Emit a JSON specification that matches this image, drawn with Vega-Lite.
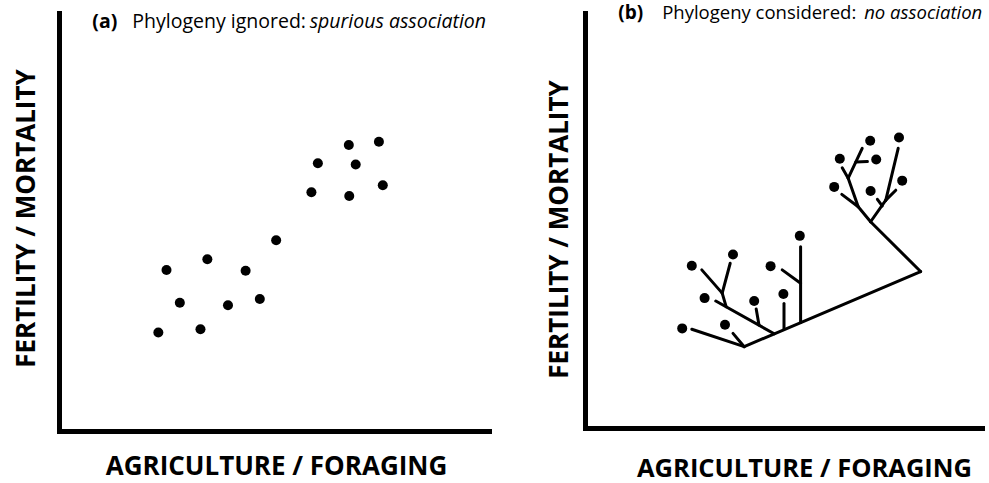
{
  "$schema": "https://vega.github.io/schema/vega-lite/v6.json",
  "background": "white",
  "padding": {"left": 13, "top": 4, "right": 0, "bottom": 0},
  "config": {
    "view": {"stroke": null},
    "font": "Open Sans",
    "axis": {
      "domain": true, "domainColor": "black", "domainWidth": 5, "domainCap": "square",
      "ticks": false, "labels": false, "grid": false,
      "titleFont": "Open Sans", "titleFontWeight": "bold", "titleColor": "black"
    }
  },
  "bounds": "flush",
  "spacing": 96,
  "hconcat": [
    {
      "width": 430, "height": 418,
      "layer": [
        {
          "data": {"values": [
            {"x": 23.1, "y": 23.8}, {"x": 25.0, "y": 38.9}, {"x": 28.1, "y": 31.0}, {"x": 32.9, "y": 24.6},
            {"x": 34.5, "y": 41.5}, {"x": 39.3, "y": 30.4}, {"x": 43.4, "y": 38.7}, {"x": 46.7, "y": 31.9},
            {"x": 50.5, "y": 46.1}, {"x": 58.7, "y": 57.7}, {"x": 60.2, "y": 64.7}, {"x": 67.4, "y": 69.1},
            {"x": 69.0, "y": 64.4}, {"x": 67.5, "y": 56.8}, {"x": 74.4, "y": 69.9}, {"x": 75.3, "y": 59.4}
          ]},
          "mark": {"type": "circle", "color": "black", "opacity": 1, "size": 100},
          "encoding": {
            "x": {"field": "x", "type": "quantitative", "scale": {"domain": [0, 100], "nice": false},
                  "axis": {"title": "AGRICULTURE / FORAGING", "titleFontSize": 26, "titlePadding": 22, "titleX": 217}},
            "y": {"field": "y", "type": "quantitative", "scale": {"domain": [0, 101], "nice": false},
                  "axis": {"title": "FERTILITY / MORTALITY", "titleFontSize": 26, "titlePadding": 20, "titleY": 205}}
          }
        },
        {
          "data": {"values": [{"x": 7.74, "y": 97.3, "t": "(a)"}]},
          "mark": {"type": "text", "align": "left", "baseline": "alphabetic", "fontSize": 19.5, "fontWeight": "bold", "color": "black"},
          "encoding": {"x": {"field": "x", "type": "quantitative"}, "y": {"field": "y", "type": "quantitative"}, "text": {"field": "t"}}
        },
        {
          "data": {"values": [{"x": 17.05, "y": 97.3, "t": "Phylogeny ignored:"}]},
          "mark": {"type": "text", "align": "left", "baseline": "alphabetic", "fontSize": 19.5, "color": "black"},
          "encoding": {"x": {"field": "x", "type": "quantitative"}, "y": {"field": "y", "type": "quantitative"}, "text": {"field": "t"}}
        },
        {
          "data": {"values": [{"x": 58.3, "y": 97.3, "t": "spurious association"}]},
          "mark": {"type": "text", "align": "left", "baseline": "alphabetic", "fontSize": 19.5, "fontStyle": "italic", "color": "black"},
          "encoding": {"x": {"field": "x", "type": "quantitative"}, "y": {"field": "y", "type": "quantitative"}, "text": {"field": "t"}}
        }
      ]
    },
    {
      "width": 400, "height": 415,
      "layer": [
        {
          "data": {"values": [
            {"x1": 26.7, "y1": 23.8, "x2": 39.8, "y2": 19.6},
            {"x1": 37.0, "y1": 22.8, "x2": 39.8, "y2": 19.6},
            {"x1": 39.8, "y1": 19.6, "x2": 83.9, "y2": 37.7},
            {"x1": 83.9, "y1": 37.7, "x2": 71.4, "y2": 49.7},
            {"x1": 47.3, "y1": 22.7, "x2": 32.7, "y2": 30.6},
            {"x1": 35.3, "y1": 29.2, "x2": 34.3, "y2": 32.5},
            {"x1": 34.3, "y1": 32.5, "x2": 29.2, "y2": 38.1},
            {"x1": 34.3, "y1": 32.5, "x2": 36.3, "y2": 39.7},
            {"x1": 43.5, "y1": 24.8, "x2": 42.8, "y2": 28.7},
            {"x1": 49.75, "y1": 23.9, "x2": 49.75, "y2": 30.0},
            {"x1": 53.9, "y1": 25.4, "x2": 53.9, "y2": 43.7},
            {"x1": 53.9, "y1": 34.9, "x2": 49.3, "y2": 38.1},
            {"x1": 71.4, "y1": 49.7, "x2": 68.3, "y2": 53.3},
            {"x1": 68.3, "y1": 53.3, "x2": 64.2, "y2": 56.3},
            {"x1": 68.3, "y1": 53.3, "x2": 65.8, "y2": 60.2},
            {"x1": 65.8, "y1": 60.2, "x2": 64.3, "y2": 62.7},
            {"x1": 65.8, "y1": 60.2, "x2": 69.3, "y2": 67.4},
            {"x1": 67.7, "y1": 64.1, "x2": 70.6, "y2": 64.2},
            {"x1": 71.4, "y1": 49.7, "x2": 75.2, "y2": 54.9},
            {"x1": 73.1, "y1": 55.1, "x2": 74.3, "y2": 53.5},
            {"x1": 75.2, "y1": 54.9, "x2": 78.3, "y2": 67.4},
            {"x1": 75.2, "y1": 54.9, "x2": 77.7, "y2": 57.3}
          ]},
          "mark": {"type": "rule", "color": "black", "strokeWidth": 3, "strokeCap": "round"},
          "encoding": {
            "x": {"field": "x1", "type": "quantitative", "scale": {"domain": [0, 100], "nice": false},
                  "axis": {"title": "AGRICULTURE / FORAGING", "titleFontSize": 25.5, "titlePadding": 28, "titleX": 219}},
            "y": {"field": "y1", "type": "quantitative", "scale": {"domain": [0, 100], "nice": false},
                  "axis": {"title": "FERTILITY / MORTALITY", "titleFontSize": 26, "titlePadding": 13, "titleY": 216}},
            "x2": {"field": "x2"},
            "y2": {"field": "y2"}
          }
        },
        {
          "data": {"values": [
            {"x": 24.3, "y": 24.0}, {"x": 29.9, "y": 31.3}, {"x": 26.7, "y": 39.1}, {"x": 37.0, "y": 41.8},
            {"x": 35.0, "y": 24.9}, {"x": 42.3, "y": 30.6}, {"x": 46.4, "y": 39.0}, {"x": 49.6, "y": 32.3},
            {"x": 53.7, "y": 46.3}, {"x": 62.3, "y": 58.1}, {"x": 63.7, "y": 64.9}, {"x": 71.3, "y": 69.2},
            {"x": 72.8, "y": 64.7}, {"x": 71.4, "y": 57.1}, {"x": 78.5, "y": 70.0}, {"x": 79.3, "y": 59.6}
          ]},
          "mark": {"type": "circle", "color": "black", "opacity": 1, "size": 100},
          "encoding": {
            "x": {"field": "x", "type": "quantitative"},
            "y": {"field": "y", "type": "quantitative"}
          }
        },
        {
          "data": {"values": [{"x": 8.3, "y": 98.5, "t": "(b)"}]},
          "mark": {"type": "text", "align": "left", "baseline": "alphabetic", "fontSize": 19, "fontWeight": "bold", "color": "black"},
          "encoding": {"x": {"field": "x", "type": "quantitative"}, "y": {"field": "y", "type": "quantitative"}, "text": {"field": "t"}}
        },
        {
          "data": {"values": [{"x": 19.3, "y": 98.5, "t": "Phylogeny considered:"}]},
          "mark": {"type": "text", "align": "left", "baseline": "alphabetic", "fontSize": 18.5, "color": "black"},
          "encoding": {"x": {"field": "x", "type": "quantitative"}, "y": {"field": "y", "type": "quantitative"}, "text": {"field": "t"}}
        },
        {
          "data": {"values": [{"x": 69.8, "y": 98.5, "t": "no association"}]},
          "mark": {"type": "text", "align": "left", "baseline": "alphabetic", "fontSize": 18.5, "fontStyle": "italic", "color": "black"},
          "encoding": {"x": {"field": "x", "type": "quantitative"}, "y": {"field": "y", "type": "quantitative"}, "text": {"field": "t"}}
        }
      ]
    }
  ]
}
